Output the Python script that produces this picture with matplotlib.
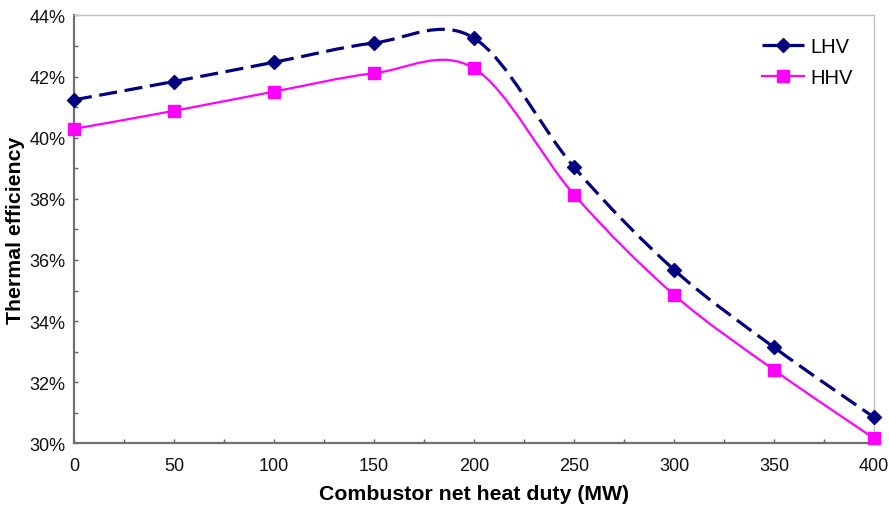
import matplotlib
matplotlib.use("Agg")
import matplotlib.pyplot as plt
from matplotlib.path import Path
from matplotlib.patches import PathPatch
from matplotlib.lines import Line2D
from matplotlib.ticker import MultipleLocator, FuncFormatter

plt.rcParams['font.family'] = ['Liberation Sans', 'DejaVu Sans']
plt.rcParams['lines.scale_dashes'] = False

# Combustor net heat duty (MW)
duty = [0, 50, 100, 150, 200, 250, 300, 350, 400]
# Thermal efficiency (%)
lhv = [41.24, 41.84, 42.47, 43.10, 43.26, 39.04, 35.68, 33.14, 30.85]
hhv = [40.29, 40.88, 41.51, 42.11, 42.27, 38.14, 34.86, 32.40, 30.16]

LHV_COLOR = '#000080'
HHV_COLOR = '#FF00FF'


def smooth_path(xs, ys):
    """Cubic Bezier path through the points (Catmull-Rom style tangents)."""
    n = len(xs)
    verts = [(xs[0], ys[0])]
    codes = [Path.MOVETO]
    for i in range(n - 1):
        x0, y0 = xs[max(i - 1, 0)], ys[max(i - 1, 0)]
        x1, y1 = xs[i], ys[i]
        x2, y2 = xs[i + 1], ys[i + 1]
        x3, y3 = xs[min(i + 2, n - 1)], ys[min(i + 2, n - 1)]
        c1 = (x1 + (x2 - x0) / 6.0, y1 + (y2 - y0) / 6.0)
        c2 = (x2 - (x3 - x1) / 6.0, y2 - (y3 - y1) / 6.0)
        verts += [c1, c2, (x2, y2)]
        codes += [Path.CURVE4] * 3
    return Path(verts, codes)


fig = plt.figure(figsize=(8.89, 5.06), dpi=100)
ax = fig.add_axes([0.0832, 0.1219, 0.9000, 0.8455])

ax.add_patch(PathPatch(smooth_path(duty, hhv), fill=False, edgecolor=HHV_COLOR,
                       linewidth=1.6, zorder=2))
ax.add_patch(PathPatch(smooth_path(duty, lhv), fill=False, edgecolor=LHV_COLOR,
                       linewidth=2.3, linestyle=(0, (13, 5.5)), zorder=3))

ax.plot(duty, hhv, linestyle='none', marker='s', markersize=8.3,
        color=HHV_COLOR, clip_on=False, zorder=4)
ax.plot(duty, lhv, linestyle='none', marker='D', markersize=6.8,
        color=LHV_COLOR, clip_on=False, zorder=5)

ax.set_xlim(0, 400)
ax.set_ylim(30, 44)
ax.xaxis.set_major_locator(MultipleLocator(50))
ax.xaxis.set_minor_locator(MultipleLocator(25))
ax.yaxis.set_major_locator(MultipleLocator(2))
ax.yaxis.set_minor_locator(MultipleLocator(1))
ax.yaxis.set_major_formatter(FuncFormatter(lambda v, p: f"{v:.0f}%"))

ax.tick_params(which='both', direction='in', length=3, width=1, color='#606060',
               labelsize=13, labelcolor='#111111')
ax.tick_params(axis='x', pad=10)
ax.tick_params(axis='y', pad=6)

for side in ('left', 'bottom'):
    ax.spines[side].set_color('#707070')
    ax.spines[side].set_linewidth(1.6)
for side in ('top', 'right'):
    ax.spines[side].set_color('#c0c0c0')
    ax.spines[side].set_linewidth(1.0)

ax.set_xlabel('Combustor net heat duty (MW)', fontsize=15.3, fontweight='bold',
              labelpad=7)
ax.set_ylabel('Thermal efficiency', fontsize=15.3, fontweight='bold', labelpad=3)

handles = [
    Line2D([], [], color=LHV_COLOR, linewidth=2.3, linestyle=(0, (13, 5.5)),
           marker='D', markersize=6.8),
    Line2D([], [], color=HHV_COLOR, linewidth=1.6, marker='s', markersize=8.3),
]
ax.legend(handles, ['LHV', 'HHV'], loc='upper right', frameon=False,
          fontsize=14.5, handlelength=2.1, handletextpad=0.3, labelspacing=0.6,
          bbox_to_anchor=(0.996, 0.992))

fig.savefig('out.png', dpi=100)
